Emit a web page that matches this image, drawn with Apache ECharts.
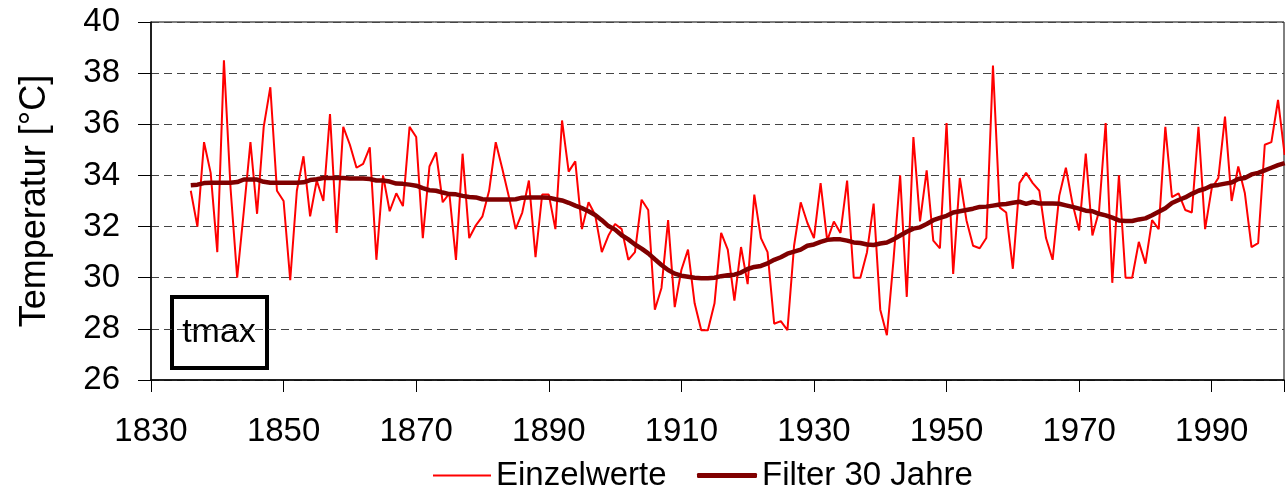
<!DOCTYPE html>
<html>
<head>
<meta charset="utf-8">
<script src="https://cdn.jsdelivr.net/npm/echarts/dist/echarts.min.js"></script>
<style>
  html, body { margin: 0; padding: 0; background: #fff; }
  #chart { width: 1287px; height: 488px; }
</style>
</head>
<body>
<div id="chart"></div>
<script>
// first year of both series, one value per year
const firstYear = 1836

// Einzelwerte (tmax per year)
const einzelwerte = [
  33.4, 32.0, 35.3, 34.1, 31.0, 38.5, 33.5, 30.0, 32.6, 35.3,    // 1836
  32.5, 35.9, 37.45, 33.4, 33.0, 29.9, 33.4, 34.75, 32.4, 33.8,  // 1846
  33.0, 36.4, 31.75, 35.9, 35.2, 34.3, 34.45, 35.1, 30.7, 34.0,  // 1856
  32.6, 33.3, 32.8, 35.9, 35.5, 31.55, 34.35, 34.9, 32.95, 33.3, // 1866
  30.7, 34.85, 31.55, 32.05, 32.4, 33.4, 35.3, 34.25, 33.15, 31.9, // 1876
  32.55, 33.8, 30.8, 33.25, 33.25, 31.9, 36.15, 34.15, 34.55, 31.9, // 1886
  32.95, 32.45, 31.0, 31.65, 32.1, 31.9, 30.7, 31.0, 33.05, 32.65, // 1896
  28.75, 29.6, 32.25, 28.85, 30.3, 31.1, 29.0, 27.95, 27.95, 29.0, // 1906
  31.75, 31.1, 29.1, 31.2, 29.75, 33.25, 31.55, 31.0, 28.2, 28.3,  // 1916
  27.95, 31.25, 32.95, 32.15, 31.55, 33.7, 31.45, 32.2, 31.75, 33.8, // 1926
  30.0, 30.0, 31.0, 32.9, 28.75, 27.75, 30.7, 34.0, 29.25, 35.5,   // 1936
  32.2, 34.2, 31.45, 31.15, 36.05, 30.15, 33.9, 32.25, 31.25, 31.15, // 1946
  31.55, 38.3, 32.75, 32.55, 30.35, 33.7, 34.1, 33.7, 33.4, 31.55,  // 1956
  30.7, 33.2, 34.3, 32.9, 31.85, 34.85, 31.65, 32.6, 36.05, 29.8,   // 1966
  34.0, 30.0, 30.0, 31.4, 30.55, 32.25, 31.9, 35.9, 33.15, 33.3,    // 1976
  32.65, 32.55, 35.9, 31.9, 33.5, 33.9, 36.3, 33.0, 34.35, 33.3,    // 1986
  31.2, 31.35, 35.2, 35.3, 36.95, 34.8                              // 1996
]

// Filter 30 Jahre
const filter30 = [
  33.62, 33.64, 33.7, 33.71, 33.71, 33.71, 33.71, 33.74, 33.84, 33.84, // 1836
  33.84, 33.75, 33.71, 33.71, 33.71, 33.71, 33.71, 33.73, 33.82, 33.85, // 1846
  33.9, 33.9, 33.9, 33.9, 33.88, 33.88, 33.88, 33.86, 33.8, 33.8,       // 1856
  33.76, 33.68, 33.67, 33.64, 33.6, 33.5, 33.42, 33.4, 33.33, 33.27,    // 1866
  33.26, 33.2, 33.16, 33.14, 33.07, 33.06, 33.06, 33.06, 33.06, 33.07,  // 1876
  33.13, 33.14, 33.14, 33.14, 33.13, 33.07, 33.02, 32.93, 32.82, 32.72, // 1886
  32.6, 32.45, 32.25, 32.02, 31.88, 31.66, 31.5, 31.3, 31.14, 30.95,    // 1896
  30.72, 30.5, 30.3, 30.16, 30.08, 30.04, 30.0, 29.98, 29.98, 30.0,     // 1906
  30.06, 30.1, 30.12, 30.2, 30.34, 30.42, 30.46, 30.56, 30.7, 30.8,     // 1916
  30.94, 31.02, 31.1, 31.25, 31.3, 31.4, 31.48, 31.5, 31.5, 31.45,      // 1926
  31.38, 31.36, 31.3, 31.28, 31.34, 31.38, 31.5, 31.65, 31.8, 31.92,    // 1936
  31.97, 32.1, 32.25, 32.34, 32.42, 32.55, 32.6, 32.65, 32.7, 32.77,    // 1946
  32.78, 32.82, 32.86, 32.88, 32.93, 32.97, 32.89, 32.96, 32.9, 32.9,   // 1956
  32.9, 32.89, 32.83, 32.77, 32.7, 32.62, 32.6, 32.5, 32.44, 32.35,     // 1966
  32.24, 32.22, 32.22, 32.28, 32.32, 32.44, 32.58, 32.72, 32.92, 33.04, // 1976
  33.14, 33.28, 33.4, 33.48, 33.6, 33.63, 33.68, 33.72, 33.86, 33.9,    // 1986
  34.04, 34.1, 34.2, 34.3, 34.4, 34.48                                  // 1996
]

const xTicks = [1830, 1850, 1870, 1890, 1910, 1930, 1950, 1970, 1990]
const yTicks = [26, 28, 30, 32, 34, 36, 38, 40]

const font = 'Liberation Sans, Arial, sans-serif'

function withYears(values) {
  return values.map((v, i) => [firstYear + i, v])
}

const chart = echarts.init(document.getElementById('chart'))

const option = {
  animation: false,
  backgroundColor: '#fff',
  textStyle: { fontFamily: font },
  grid: {
    left: 151,
    top: 22,
    bottom: 108,
    right: -2,
    show: true,
    borderColor: '#000',
    borderWidth: 1
  },
  legend: [
    {
      data: ['Einzelwerte'],
      left: 428,
      top: 454,
      icon: 'rect',
      itemWidth: 58,
      itemHeight: 2,
      textStyle: { fontSize: 33, color: '#000', fontFamily: font }
    },
    {
      data: ['Filter 30 Jahre'],
      left: 692,
      top: 454,
      icon: 'roundRect',
      itemWidth: 60,
      itemHeight: 5,
      textStyle: { fontSize: 33, color: '#000', fontFamily: font }
    }
  ],
  xAxis: {
    type: 'value',
    min: 1830,
    max: 2000.9,
    interval: 20,
    axisLine: { lineStyle: { color: '#000', width: 1.5 } },
    axisTick: { length: 12, lineStyle: { color: '#000' } },
    splitLine: { show: false },
    axisLabel: {
      fontSize: 33,
      color: '#000',
      margin: 35,
      fontFamily: font,
      formatter: v => xTicks.includes(v) ? String(v) : ''
    }
  },
  yAxis: {
    type: 'value',
    min: yTicks[0],
    max: yTicks[yTicks.length - 1],
    interval: 2,
    name: 'Temperatur [°C]',
    nameLocation: 'middle',
    nameGap: 98,
    nameTextStyle: { fontSize: 36, color: '#000', fontFamily: font },
    axisLine: { show: true, lineStyle: { color: '#000', width: 1.5 } },
    axisTick: { show: true, length: 13, lineStyle: { color: '#000' } },
    axisLabel: { fontSize: 33, color: '#000', margin: 31, fontFamily: font },
    splitLine: {
      show: true,
      lineStyle: { color: '#444', type: [8, 5], width: 1 }
    }
  },
  series: [
    {
      name: 'Einzelwerte',
      type: 'line',
      data: withYears(einzelwerte),
      symbol: 'none',
      lineStyle: { color: '#ff0000', width: 2 },
      itemStyle: { color: '#ff0000' },
      z: 2
    },
    {
      name: 'Filter 30 Jahre',
      type: 'line',
      data: withYears(filter30),
      symbol: 'none',
      lineStyle: { color: '#800000', width: 4.5 },
      itemStyle: { color: '#800000' },
      z: 3
    }
  ],
  graphic: [
    {
      type: 'group',
      left: 170,
      top: 295,
      children: [
        {
          type: 'rect',
          shape: { x: 2, y: 2, width: 95, height: 71 },
          style: { fill: '#fff', stroke: '#000', lineWidth: 4 }
        },
        {
          type: 'text',
          x: 49,
          y: 38,
          style: {
            text: 'tmax',
            font: '34px ' + font,
            fill: '#000',
            align: 'center',
            verticalAlign: 'middle'
          }
        }
      ]
    }
  ]
}

chart.setOption(option)
</script>
</body>
</html>
